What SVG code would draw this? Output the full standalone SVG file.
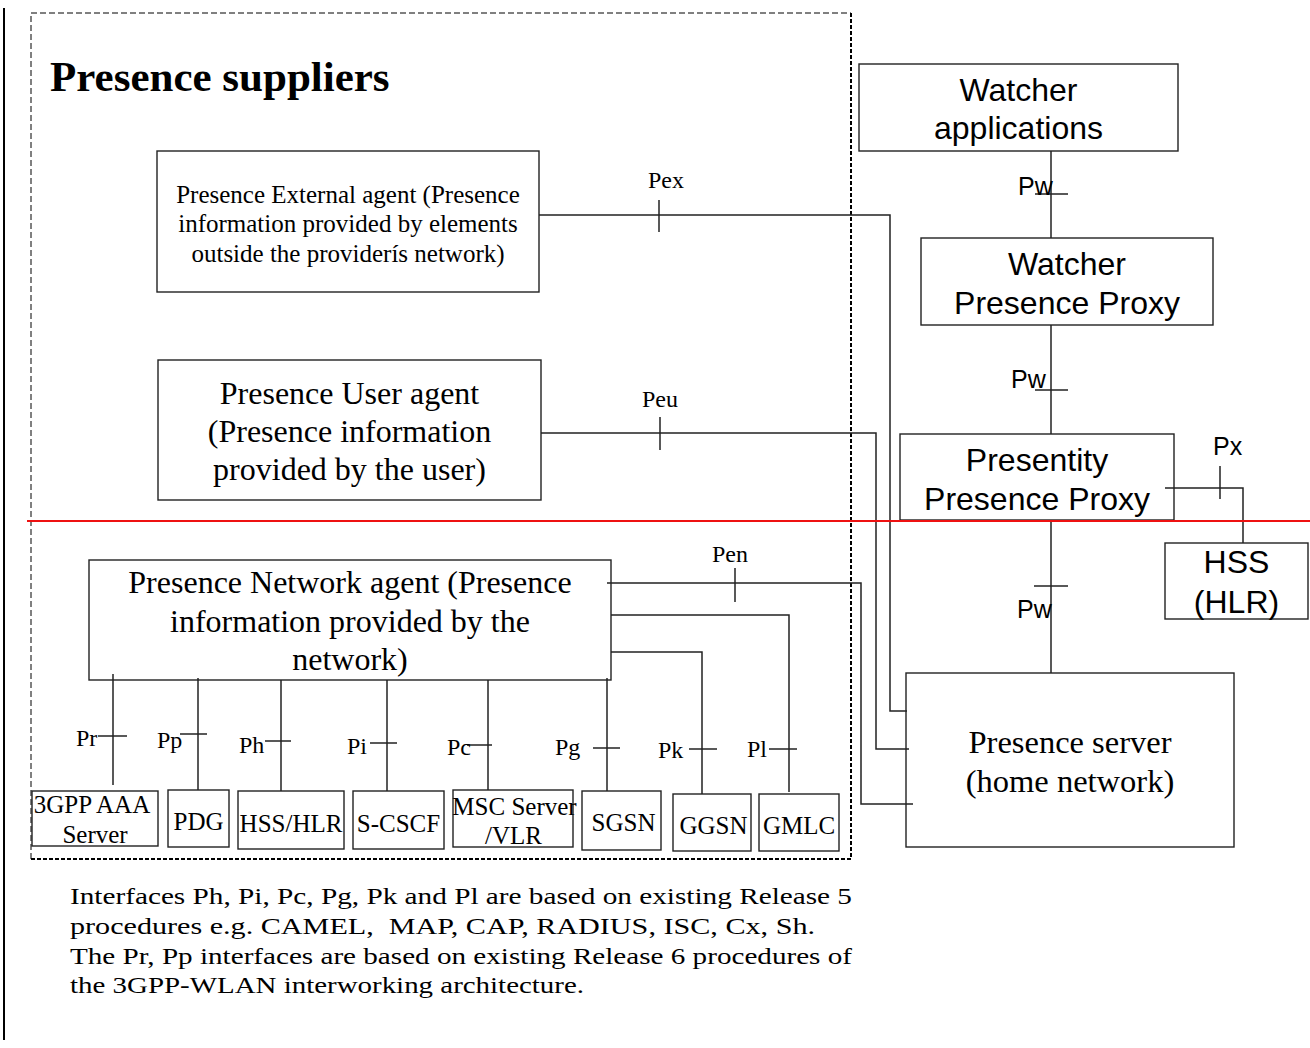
<svg xmlns="http://www.w3.org/2000/svg" width="1310" height="1048" viewBox="0 0 1310 1048">
  <style>
    .box { fill: none; stroke: #222; stroke-width: 1.4; }
    .ln { fill: none; stroke: #222; stroke-width: 1.5; }
    .ser { font-family: "Liberation Serif", "Times New Roman", serif; fill: #000; }
    .sans { font-family: "Liberation Sans", Arial, sans-serif; fill: #000; }
    .mid { text-anchor: middle; }
    .lbl { font-size: 24px; }
    .lbls { font-size: 25px; }
    .small { font-size: 25px; }
    .big { font-size: 32px; }
  </style>
  <rect width="1310" height="1048" fill="#fff"/>

  <!-- margin rule on the left -->
  <line x1="4" y1="8" x2="4" y2="1040" stroke="#000" stroke-width="2"/>

  <!-- suppliers frame: thin dashes top/left, heavier dashes right/bottom -->
  <g id="suppliers-frame">
    <polyline points="31,859 31,13 851,13" fill="none" stroke="#000" stroke-width="1" stroke-dasharray="6 3"/>
    <polyline points="851,13 851,859 31,859" fill="none" stroke="#000" stroke-width="2" stroke-dasharray="4 2"/>
    <text class="ser" x="50" y="91" font-size="43" font-weight="bold">Presence suppliers</text>
  </g>

  <!-- connectors -->
  <g id="connectors">
    <!-- Pex -->
    <polyline class="ln" points="539,215 890,215 890,711 907,711"/>
    <line class="ln" x1="659" y1="200" x2="659" y2="232"/>
    <text class="ser lbl" x="648" y="188">Pex</text>
    <!-- Peu -->
    <polyline class="ln" points="541,433 876,433 876,749 909,749"/>
    <line class="ln" x1="660" y1="417" x2="660" y2="450"/>
    <text class="ser lbl" x="642" y="407">Peu</text>
    <!-- Pen -->
    <polyline class="ln" points="607,583 861,583 861,804 913,804"/>
    <line class="ln" x1="735" y1="568" x2="735" y2="602"/>
    <text class="ser lbl" x="712" y="562">Pen</text>
    <!-- Pl -->
    <polyline class="ln" points="611,615 789,615 789,792"/>
    <line class="ln" x1="769" y1="749" x2="797" y2="749"/>
    <text class="ser lbl" x="747" y="757">Pl</text>
    <!-- Pk -->
    <polyline class="ln" points="611,652 702,652 702,794"/>
    <line class="ln" x1="689" y1="749" x2="717" y2="749"/>
    <text class="ser lbl" x="658" y="758">Pk</text>
    <!-- Pg -->
    <line class="ln" x1="607" y1="678" x2="607" y2="791"/>
    <line class="ln" x1="593" y1="748" x2="620" y2="748"/>
    <text class="ser lbl" x="555" y="755">Pg</text>
    <!-- Pc -->
    <line class="ln" x1="488" y1="680" x2="488" y2="790"/>
    <line class="ln" x1="467" y1="745" x2="492" y2="745"/>
    <text class="ser lbl" x="447" y="755">Pc</text>
    <!-- Pi -->
    <line class="ln" x1="387" y1="680" x2="387" y2="791"/>
    <line class="ln" x1="370" y1="743" x2="397" y2="743"/>
    <text class="ser lbl" x="347" y="754">Pi</text>
    <!-- Ph -->
    <line class="ln" x1="281" y1="680" x2="281" y2="791"/>
    <line class="ln" x1="265" y1="741" x2="291" y2="741"/>
    <text class="ser lbl" x="239" y="753">Ph</text>
    <!-- Pp -->
    <line class="ln" x1="198" y1="678" x2="198" y2="790"/>
    <line class="ln" x1="180" y1="734" x2="207" y2="734"/>
    <text class="ser lbl" x="157" y="748">Pp</text>
    <!-- Pr -->
    <line class="ln" x1="113" y1="674" x2="113" y2="785"/>
    <line class="ln" x1="98" y1="736" x2="127" y2="736"/>
    <text class="ser lbl" x="76" y="746">Pr</text>
    <!-- Pw: watcher applications to watcher proxy -->
    <line class="ln" x1="1051" y1="151" x2="1051" y2="238"/>
    <line class="ln" x1="1035" y1="194" x2="1068" y2="194"/>
    <text class="sans lbls" x="1018" y="195">Pw</text>
    <!-- Pw: watcher proxy to presentity proxy -->
    <line class="ln" x1="1051" y1="325" x2="1051" y2="434"/>
    <line class="ln" x1="1035" y1="390" x2="1068" y2="390"/>
    <text class="sans lbls" x="1011" y="388">Pw</text>
    <!-- Pw: presentity proxy to presence server -->
    <line class="ln" x1="1051" y1="521" x2="1051" y2="673"/>
    <line class="ln" x1="1034" y1="586" x2="1068" y2="586"/>
    <text class="sans lbls" x="1017" y="618">Pw</text>
    <!-- Px -->
    <polyline class="ln" points="1165,488 1243,488 1243,543"/>
    <line class="ln" x1="1220" y1="466" x2="1220" y2="499"/>
    <text class="sans lbls" x="1213" y="455">Px</text>
  </g>

  <!-- supplier agents -->
  <g id="external-agent">
    <rect class="box" x="157" y="151" width="382" height="141"/>
    <text class="ser mid" font-size="25" x="348" y="203">Presence External agent (Presence</text>
    <text class="ser mid" font-size="25" x="348" y="232">information provided by elements</text>
    <text class="ser mid" font-size="25" x="348" y="262">outside the providerís network)</text>
  </g>
  <g id="user-agent">
    <rect class="box" x="158" y="360" width="383" height="140"/>
    <text class="ser mid big" x="349.5" y="404">Presence User agent</text>
    <text class="ser mid big" x="349.5" y="442">(Presence information</text>
    <text class="ser mid big" x="349.5" y="480">provided by the user)</text>
  </g>
  <g id="network-agent">
    <rect class="box" x="89" y="560" width="522" height="120"/>
    <text class="ser mid big" x="350" y="593">Presence Network agent (Presence</text>
    <text class="ser mid big" x="350" y="632">information provided by the</text>
    <text class="ser mid big" x="350" y="670">network)</text>
  </g>

  <!-- network elements -->
  <g id="aaa-server">
    <rect class="box" x="32" y="791" width="126" height="55"/>
    <text class="ser mid small" x="92" y="813">3GPP AAA</text>
    <text class="ser mid small" x="95" y="843">Server</text>
  </g>
  <g id="pdg">
    <rect class="box" x="168" y="790" width="61" height="57"/>
    <text class="ser mid small" x="198.5" y="830">PDG</text>
  </g>
  <g id="hss-hlr">
    <rect class="box" x="238" y="791" width="106" height="58"/>
    <text class="ser mid small" x="291" y="832">HSS/HLR</text>
  </g>
  <g id="s-cscf">
    <rect class="box" x="353" y="791" width="91" height="58"/>
    <text class="ser mid small" x="398.5" y="832">S-CSCF</text>
  </g>
  <g id="msc-vlr">
    <rect class="box" x="453" y="790" width="120" height="57"/>
    <text class="ser mid small" x="514.5" y="815">MSC Server</text>
    <text class="ser mid small" x="513.5" y="844">/VLR</text>
  </g>
  <g id="sgsn">
    <rect class="box" x="582" y="791" width="79" height="59"/>
    <text class="ser mid small" x="623.5" y="831">SGSN</text>
  </g>
  <g id="ggsn">
    <rect class="box" x="673" y="794" width="78" height="57"/>
    <text class="ser mid small" x="713.5" y="834">GGSN</text>
  </g>
  <g id="gmlc">
    <rect class="box" x="759" y="794" width="80" height="57"/>
    <text class="ser mid small" x="799" y="834">GMLC</text>
  </g>

  <!-- watcher side -->
  <g id="watcher-applications">
    <rect class="box" x="859" y="64" width="319" height="87"/>
    <text class="sans mid big" x="1018.5" y="101">Watcher</text>
    <text class="sans mid big" x="1018.5" y="139">applications</text>
  </g>
  <g id="watcher-presence-proxy">
    <rect class="box" x="921" y="238" width="292" height="87"/>
    <text class="sans mid big" x="1067" y="275">Watcher</text>
    <text class="sans mid big" x="1067" y="314">Presence Proxy</text>
  </g>
  <g id="presentity-presence-proxy">
    <rect class="box" x="900" y="434" width="274" height="86"/>
    <text class="sans mid big" x="1037" y="471">Presentity</text>
    <text class="sans mid big" x="1037" y="510">Presence Proxy</text>
  </g>
  <g id="hss">
    <rect class="box" x="1165" y="543" width="143" height="76"/>
    <text class="sans mid big" x="1236.5" y="573">HSS</text>
    <text class="sans mid big" x="1236.5" y="613">(HLR)</text>
  </g>
  <g id="presence-server">
    <rect class="box" x="906" y="673" width="328" height="174"/>
    <text class="ser mid" font-size="32.5" x="1070" y="753">Presence server</text>
    <text class="ser mid" font-size="32.5" x="1070" y="792">(home network)</text>
  </g>

  <!-- network boundary -->
  <line x1="27" y1="521" x2="1310" y2="521" stroke="#ee1111" stroke-width="2"/>

  <!-- explanatory note, set wide -->
  <g id="note" class="ser" font-size="24">
    <text x="70" y="904" textLength="782" lengthAdjust="spacingAndGlyphs">Interfaces Ph, Pi, Pc, Pg, Pk and Pl are based on existing Release 5</text>
    <text x="70" y="934" textLength="745" lengthAdjust="spacingAndGlyphs" style="white-space:pre">procedures e.g. CAMEL,  MAP, CAP, RADIUS, ISC, Cx, Sh.</text>
    <text x="70" y="964" textLength="782" lengthAdjust="spacingAndGlyphs">The Pr, Pp interfaces are based on existing Release 6 procedures of</text>
    <text x="70" y="993" textLength="514" lengthAdjust="spacingAndGlyphs">the 3GPP-WLAN interworking architecture.</text>
  </g>
</svg>
